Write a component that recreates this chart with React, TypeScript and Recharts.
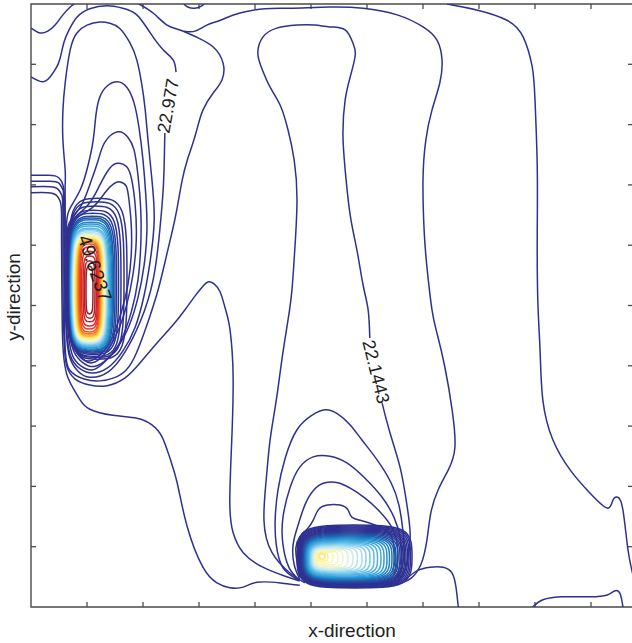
import React from "react";
import { LineChart, Line, XAxis, YAxis, ReferenceLine, ReferenceDot, ReferenceArea } from "recharts";

type P = [number, number];

const X_MAX = 10.75;
const Y_MAX = 10;
const TICKS_X = [1, 2, 3, 4, 5, 6, 7, 8, 9, 10];
const TICKS_Y = [1, 2, 3, 4, 5, 6, 7, 8, 9];

// contour labels printed on the plot
const LABEL_TEXT = ["22.977", "22.1443", "49.6237"];
const LABEL_X = [2.45, 6.16, 1.14];
const LABEL_Y = [8.31, 3.9, 5.62];
const LABEL_ANGLE = [-80, 76, 71];
const LABEL_SIZE = [18, 18, 19];

// navy contour lines (x, y)
const C_CORNER: P[] = [[0, 9.6], [0.16, 9.52], [0.3, 9.55], [0.43, 9.65], [0.57, 9.82], [0.7, 9.95], [0.77, 10]];
const C_B_TOP: P[] = [[0, 8.79], [0.2, 8.71], [0.34, 8.79], [0.45, 8.94], [0.52, 9.1], [0.59, 9.37], [0.68, 9.57], [0.82, 9.78], [1.05, 9.92], [1.36, 9.97], [1.64, 9.93], [1.89, 9.82], [2.13, 9.52], [2.36, 9.24], [2.54, 9.07], [2.59, 8.87]];
const C_B_LOW: P[] = [[2.39, 7.86], [2.38, 7.41], [2.36, 6.92], [2.3, 6.25], [2.18, 5.42], [1.95, 4.73], [1.68, 4.23], [1.38, 3.9], [1.05, 3.81], [0.84, 3.91], [0.68, 4.18], [0.62, 4.76], [0.6, 5.59], [0.6, 6.42], [0.595, 6.83], [0.55, 7.05], [0.43, 7.15], [0.25, 7.16], [0, 7.16]];
const C_U: P[] = [[0, 7.06], [0.34, 7.06], [0.5, 7.03], [0.57, 6.92], [0.585, 6.67], [0.59, 5.59], [0.595, 4.76], [0.615, 4.23], [0.69, 3.93], [0.95, 3.78], [1.23, 3.75], [1.48, 3.8], [1.7, 3.93], [1.89, 4.23], [2.09, 4.73], [2.27, 5.26], [2.41, 5.79], [2.52, 6.22], [2.61, 6.62], [2.7, 7.08], [2.79, 7.41], [2.88, 7.66], [2.96, 7.91], [3.07, 8.24], [3.25, 8.52], [3.41, 8.74], [3.43, 9.02], [3.25, 9.29], [2.96, 9.45], [2.66, 9.57], [2.43, 9.65], [2.18, 9.85], [1.93, 10]];
const C_H: P[] = [[0, 6.97], [0.34, 6.97], [0.48, 6.93], [0.55, 6.83], [0.57, 6.58], [0.57, 5.75], [0.575, 4.93], [0.595, 4.34], [0.64, 3.99], [0.79, 3.78], [1.05, 3.68], [1.36, 3.67], [1.68, 3.8], [1.95, 4.05], [2.25, 4.38], [2.52, 4.66], [2.75, 4.93], [2.93, 5.16], [3.07, 5.32], [3.16, 5.39], [3.27, 5.36], [3.38, 5.22], [3.46, 4.98], [3.54, 4.68], [3.59, 4.26], [3.61, 3.77], [3.59, 2.89], [3.55, 1.77], [3.61, 1.23], [3.79, 0.9], [4.14, 0.66], [4.54, 0.51], [4.8, 0.43]];
const C_W: P[] = [[0, 6.87], [0.3, 6.87], [0.45, 6.83], [0.52, 6.73], [0.545, 6.55], [0.545, 6.09], [0.55, 5.42], [0.56, 4.59], [0.59, 4.1], [0.66, 3.8], [0.77, 3.6], [0.88, 3.43], [1.05, 3.28], [1.46, 3.18], [1.89, 3.13], [2.16, 3.02], [2.34, 2.82], [2.48, 2.47], [2.61, 2.06], [2.79, 1.33], [3.07, 0.66], [3.32, 0.4], [3.55, 0.32], [3.79, 0.33], [4.04, 0.41], [4.45, 0.4], [4.8, 0.36]];
const C_C: P[] = [[0.61, 6.75], [0.61, 7], [0.61, 7.25], [0.57, 7.74], [0.57, 8.24], [0.61, 8.69], [0.7, 9.24], [0.82, 9.52], [1, 9.65], [1.23, 9.7], [1.41, 9.68], [1.59, 9.59], [1.77, 9.35], [1.89, 9.07], [1.98, 8.66], [2.04, 8.24], [2.09, 7.74], [2.16, 7.08], [2.2, 6.42], [2.13, 5.75], [2.02, 5.17], [1.86, 4.64], [1.63, 4.23], [1.36, 3.96], [1.09, 3.88], [0.88, 3.95], [0.7, 4.18], [0.63, 4.76], [0.61, 5.59], [0.61, 6.25], [0.61, 6.75]];
const C_D: P[] = [[0.625, 5.59], [0.63, 6.25], [0.68, 6.58], [0.88, 6.92], [1.02, 7.33], [1.11, 7.74], [1.16, 8.16], [1.23, 8.46], [1.36, 8.64], [1.54, 8.71], [1.71, 8.62], [1.84, 8.36], [1.93, 7.94], [2, 7.41], [2.05, 6.83], [2.07, 6.25], [2.02, 5.67], [1.91, 5.13], [1.75, 4.66], [1.54, 4.3], [1.3, 4.05], [1.09, 3.93], [0.89, 4], [0.73, 4.2], [0.65, 4.68], [0.625, 5.17], [0.625, 5.59]];
const C_A5: P[] = [[0.635, 5.92], [0.67, 6.34], [0.88, 6.63], [1.05, 7], [1.2, 7.41], [1.32, 7.71], [1.55, 7.88], [1.73, 7.79], [1.84, 7.58], [1.91, 7.16], [1.96, 6.58], [1.96, 6], [1.91, 5.42], [1.79, 4.89], [1.61, 4.43], [1.38, 4.13], [1.13, 3.99], [0.93, 4.05], [0.76, 4.25], [0.66, 4.68], [0.635, 5.26], [0.635, 5.92]];
const C_A6: P[] = [[0.646, 6.09], [0.72, 6.38], [1.02, 6.67], [1.23, 7], [1.41, 7.28], [1.55, 7.36], [1.71, 7.3], [1.8, 7.08], [1.86, 6.67], [1.88, 6.09], [1.82, 5.51], [1.7, 4.98], [1.52, 4.51], [1.3, 4.18], [1.09, 4.05], [0.93, 4.1], [0.78, 4.28], [0.67, 4.68], [0.646, 5.26], [0.646, 6.09]];
const C_A7: P[] = [[0.657, 6.17], [0.76, 6.42], [1.09, 6.62], [1.32, 6.87], [1.48, 7.02], [1.59, 7.05], [1.7, 6.98], [1.75, 6.75], [1.79, 6.34], [1.79, 5.84], [1.73, 5.34], [1.61, 4.88], [1.43, 4.43], [1.23, 4.18], [1.05, 4.08], [0.91, 4.13], [0.8, 4.33], [0.69, 4.73], [0.657, 5.26], [0.657, 6.17]];
const C_T: P[] = [[2.73, 9.55], [2.93, 9.55], [3.14, 9.65], [3.38, 9.73], [3.73, 9.85], [4.18, 9.92], [4.63, 9.93], [5.34, 9.95], [5.93, 9.93], [6.54, 9.82], [7, 9.62], [7.25, 9.4], [7.34, 9.07], [7.3, 8.69], [7.16, 8.24], [7.05, 7.74], [7, 7.08], [7.02, 6.25], [7.07, 5.64], [7.16, 4.93], [7.25, 4.54], [7.39, 3.98], [7.52, 3.27], [7.57, 2.65], [7.45, 2.27], [7.27, 1.94], [7.14, 1.56], [7.07, 1.11], [6.96, 0.7], [6.79, 0.48], [6.63, 0.4]];
const C_TOPLOOP: P[] = [[2.73, 10], [2.8, 9.95], [2.93, 9.93], [3.05, 9.97], [3.09, 10]];
const C_MID: P[] = [[4.89, 0.4], [4.63, 0.56], [4.3, 0.91], [4.16, 1.44], [4.2, 2.11], [4.27, 2.77], [4.38, 3.43], [4.48, 4.1], [4.59, 4.76], [4.66, 5.26], [4.71, 5.92], [4.75, 6.75], [4.7, 7.41], [4.59, 7.91], [4.45, 8.32], [4.27, 8.62], [4.11, 8.96], [4.05, 9.2], [4.14, 9.45], [4.39, 9.6], [4.75, 9.65], [5.07, 9.65], [5.34, 9.62], [5.61, 9.57], [5.75, 9.35], [5.79, 9.15], [5.7, 8.79], [5.61, 8.41], [5.57, 7.86], [5.61, 7.25], [5.7, 6.5], [5.82, 5.92], [5.93, 5.34], [6.02, 4.93], [6.05, 4.46]];
const C_MID_LOW: P[] = [[6.27, 3.38], [6.41, 2.89], [6.59, 2.32], [6.7, 1.77], [6.77, 1.23], [6.73, 0.81], [6.64, 0.53], [6.52, 0.4]];
const C_R1: P[] = [[7.43, 10], [7.96, 9.9], [8.5, 9.73], [8.79, 9.45], [8.95, 8.96], [9, 8.41], [9.04, 7.3], [9.04, 6.2], [9.05, 5.09], [9.09, 4.26], [9.14, 3.43], [9.32, 2.77], [9.63, 2.27], [9.98, 1.89], [10.29, 1.64], [10.39, 1.77], [10.48, 1.82], [10.57, 1.61], [10.66, 0.95], [10.75, 0.53]];
const C_R2: P[] = [[8.96, 0], [9.14, 0.12], [9.5, 0.17], [9.98, 0.17], [10.29, 0.2], [10.43, 0.27], [10.52, 0.22], [10.57, 0]];
const C_BR: P[] = [[6.68, 0.45], [6.89, 0.6], [7.13, 0.66], [7.36, 0.66], [7.52, 0.56], [7.59, 0.32], [7.63, 0]];
const C_E: P[] = [[4.77, 0.45], [4.5, 0.65], [4.38, 1.03], [4.36, 1.44], [4.41, 1.94], [4.54, 2.47], [4.75, 2.94], [5.02, 3.18], [5.25, 3.27], [5.48, 3.2], [5.7, 3.02], [5.91, 2.77], [6.18, 2.44], [6.43, 2.06], [6.57, 1.69], [6.64, 1.28], [6.66, 0.9], [6.61, 0.61], [6.54, 0.48]];
const C_F: P[] = [[4.79, 0.45], [4.61, 0.65], [4.5, 1.03], [4.5, 1.49], [4.63, 1.99], [4.8, 2.32], [5.04, 2.49], [5.34, 2.5], [5.64, 2.39], [5.96, 2.14], [6.27, 1.82], [6.48, 1.49], [6.59, 1.16], [6.61, 0.83], [6.55, 0.56], [6.5, 0.46]];
const C_G: P[] = [[4.8, 0.46], [4.7, 0.7], [4.68, 1.03], [4.77, 1.36], [4.89, 1.69], [5.05, 1.94], [5.25, 2.06], [5.48, 2.06], [5.7, 1.97], [5.96, 1.81], [6.23, 1.58], [6.45, 1.31], [6.54, 1.03], [6.54, 0.75], [6.48, 0.53]];
const C_DB: P[] = [[4.8, 0.5], [4.75, 0.75], [4.73, 0.98], [4.8, 1.16], [4.93, 1.29], [5.04, 1.44], [5.13, 1.61], [5.29, 1.69], [5.52, 1.69], [5.66, 1.61], [5.73, 1.49], [5.91, 1.43], [6.14, 1.36], [6.38, 1.24], [6.48, 1.03], [6.5, 0.78], [6.45, 0.58]];

const NAVY_LINES = [C_CORNER, C_B_TOP, C_B_LOW, C_U, C_H, C_W, C_C, C_D, C_A5, C_A6, C_A7, C_T, C_TOPLOOP, C_MID, C_MID_LOW, C_R1, C_R2, C_BR, C_E, C_F, C_G, C_DB];

// dense rings round the left peak: level and extent of each ring
const LEFT_LEVEL = [25.47, 26.3, 27.14, 27.97, 28.8, 29.64, 30.47, 31.3, 32.14, 32.97, 33.8, 34.64, 35.47, 36.3, 37.14, 37.97, 38.8, 39.64, 40.47, 41.3, 42.14, 42.97, 43.8, 44.64, 45.47, 46.3, 47.14, 47.97, 48.8, 49.62];
const LEFT_X0 = [0.661, 0.666, 0.671, 0.677, 0.682, 0.688, 0.693, 0.698, 0.704, 0.709, 0.714, 0.723, 0.732, 0.741, 0.75, 0.759, 0.768, 0.777, 0.786, 0.795, 0.809, 0.821, 0.834, 0.846, 0.863, 0.88, 0.902, 0.929, 0.955, 0.982];
const LEFT_X1 = [1.714, 1.661, 1.607, 1.563, 1.527, 1.5, 1.473, 1.455, 1.438, 1.42, 1.402, 1.384, 1.366, 1.354, 1.339, 1.327, 1.314, 1.304, 1.291, 1.279, 1.268, 1.255, 1.243, 1.232, 1.218, 1.204, 1.188, 1.17, 1.143, 1.107];
const LEFT_Y0 = [4.11, 4.14, 4.16, 4.19, 4.21, 4.23, 4.25, 4.26, 4.28, 4.3, 4.31, 4.33, 4.35, 4.36, 4.38, 4.39, 4.41, 4.43, 4.44, 4.46, 4.48, 4.49, 4.51, 4.53, 4.56, 4.61, 4.66, 4.73, 4.79, 4.86];
const LEFT_Y1 = [6.78, 6.72, 6.65, 6.58, 6.53, 6.48, 6.45, 6.42, 6.38, 6.35, 6.32, 6.28, 6.26, 6.24, 6.21, 6.19, 6.17, 6.15, 6.14, 6.12, 6.1, 6.09, 6.07, 6.05, 6.02, 5.97, 5.9, 5.82, 5.74, 5.65];

// dense rings round the bottom peak
const BOT_LEVEL = [24.6, 25.18, 25.75, 26.33, 26.9, 27.48, 28.05, 28.63, 29.2, 29.78, 30.35, 30.93, 31.5, 32.08, 32.65, 33.23, 33.8, 34.38, 34.95, 35.53, 36.1, 36.68, 37.25, 37.83, 38.4, 38.98, 39.55, 40.13, 40.7, 41.28];
const BOT_X0 = [4.75, 4.763, 4.775, 4.788, 4.8, 4.813, 4.825, 4.838, 4.85, 4.863, 4.875, 4.888, 4.9, 4.913, 4.925, 4.938, 4.95, 4.963, 4.975, 4.988, 5.0, 5.014, 5.029, 5.043, 5.057, 5.071, 5.089, 5.107, 5.125, 5.152];
const BOT_X1 = [6.804, 6.777, 6.75, 6.723, 6.696, 6.67, 6.643, 6.616, 6.589, 6.554, 6.518, 6.482, 6.446, 6.402, 6.357, 6.304, 6.25, 6.188, 6.125, 6.054, 5.982, 5.911, 5.83, 5.75, 5.661, 5.571, 5.482, 5.393, 5.304, 5.25];
const BOT_Y0 = [0.315, 0.327, 0.338, 0.35, 0.361, 0.373, 0.385, 0.396, 0.408, 0.419, 0.431, 0.444, 0.457, 0.471, 0.484, 0.497, 0.514, 0.53, 0.547, 0.564, 0.58, 0.597, 0.613, 0.63, 0.646, 0.671, 0.696, 0.729, 0.762, 0.796];
const BOT_Y1 = [1.36, 1.343, 1.327, 1.31, 1.293, 1.277, 1.26, 1.244, 1.227, 1.21, 1.194, 1.177, 1.161, 1.144, 1.128, 1.111, 1.094, 1.078, 1.061, 1.045, 1.028, 1.011, 0.995, 0.978, 0.962, 0.945, 0.928, 0.912, 0.895, 0.879];

const NAVY = "#2f3190";
const FRAME = "#4a4a4a";
const FONT = "'Liberation Sans', Arial, sans-serif";

const COLOR_STOPS: [number, string][] = [
  [21.3, "#2e3192"], [28.3, "#2e3192"], [30.6, "#1e5aa8"], [32.8, "#2394d3"],
  [35.0, "#5bbbe8"], [37.0, "#b3e0f2"], [38.8, "#e9f5d5"], [40.3, "#fdf5a6"],
  [41.8, "#ffe04a"], [43.3, "#fbb034"], [44.6, "#f47a20"], [46.0, "#ee3b24"],
  [47.8, "#d4212a"], [49.7, "#9e1b20"],
];

function rgb(h: string) {
  const n = parseInt(h.slice(1), 16);
  return [(n >> 16) & 255, (n >> 8) & 255, n & 255];
}

function levelColor(v: number) {
  for (let i = 1; i < COLOR_STOPS.length; i++) {
    const [v0, c0] = COLOR_STOPS[i - 1];
    const [v1, c1] = COLOR_STOPS[i];
    if (v <= v1) {
      const t = Math.max(0, Math.min(1, (v - v0) / (v1 - v0)));
      const a = rgb(c0), b = rgb(c1);
      const m = a.map((c, k) => Math.round(c + (b[k] - c) * t));
      return `rgb(${m[0]},${m[1]},${m[2]})`;
    }
  }
  return COLOR_STOPS[COLOR_STOPS.length - 1][1];
}

const toPts = (pts: P[]) => pts.map(([x, y]) => ({ x, y }));

// ring through the mid points of its extent, closed by the basis curve
function ring(x0: number, x1: number, y0: number, y1: number) {
  const xm = (x0 + x1) / 2, ym = (y0 + y1) / 2;
  return [
    { x: x0, y: y1 }, { x: xm, y: y1 }, { x: x1, y: y1 }, { x: x1, y: ym },
    { x: x1, y: y0 }, { x: xm, y: y0 }, { x: x0, y: y0 }, { x: x0, y: ym },
  ];
}

const RINGS = [
  ...LEFT_LEVEL.map((lv, i) => ({ lv, pts: ring(LEFT_X0[i], LEFT_X1[i], LEFT_Y0[i], LEFT_Y1[i]) })),
  ...BOT_LEVEL.map((lv, i) => ({ lv, pts: ring(BOT_X0[i], BOT_X1[i], BOT_Y0[i], BOT_Y1[i]) })),
];

const TICK_DX = 0.09;
const TICK_DY = 0.083;

export default function App() {
  return (
    <div style={{ position: "absolute", left: 0, top: 0, width: 632, height: 643, overflow: "hidden", background: "#fff" }}>
      <LineChart width={640} height={643} margin={{ top: 4, right: 7, bottom: 36, left: 31 }}>
        <XAxis xAxisId="b" type="number" dataKey="x" domain={[0, X_MAX]} allowDataOverflow hide />
        <YAxis yAxisId="l" type="number" dataKey="y" domain={[0, Y_MAX]} allowDataOverflow hide />

        <ReferenceArea xAxisId="b" yAxisId="l" x1={0} x2={X_MAX} y1={0} y2={Y_MAX}
          fill="none" fillOpacity={0} stroke={FRAME} strokeWidth={1.4} strokeOpacity={1} />

        {TICKS_X.map((t) => (
          <ReferenceLine key={`tb${t}`} xAxisId="b" yAxisId="l" segment={[{ x: t, y: 0 }, { x: t, y: TICK_DY }]} stroke={FRAME} strokeWidth={1.3} />
        ))}
        {TICKS_X.map((t) => (
          <ReferenceLine key={`tt${t}`} xAxisId="b" yAxisId="l" segment={[{ x: t, y: Y_MAX }, { x: t, y: Y_MAX - TICK_DY }]} stroke={FRAME} strokeWidth={1.3} />
        ))}
        {TICKS_Y.map((t) => (
          <ReferenceLine key={`tl${t}`} xAxisId="b" yAxisId="l" segment={[{ x: 0, y: t }, { x: TICK_DX, y: t }]} stroke={FRAME} strokeWidth={1.3} />
        ))}
        {TICKS_Y.map((t) => (
          <ReferenceLine key={`tr${t}`} xAxisId="b" yAxisId="l" segment={[{ x: X_MAX, y: t }, { x: X_MAX - TICK_DX, y: t }]} stroke={FRAME} strokeWidth={1.3} />
        ))}

        {NAVY_LINES.map((pts, i) => (
          <Line key={`n${i}`} xAxisId="b" yAxisId="l" data={toPts(pts)} dataKey="y" type="natural"
            stroke={NAVY} strokeWidth={1.5} dot={false} activeDot={false} isAnimationActive={false} />
        ))}
        {RINGS.map((r, i) => (
          <Line key={`r${i}`} xAxisId="b" yAxisId="l" data={r.pts} dataKey="y" type="basisClosed"
            stroke={levelColor(r.lv)} strokeWidth={1.5} dot={false} activeDot={false} isAnimationActive={false} />
        ))}

        {LABEL_TEXT.map((txt, i) => (
          <ReferenceDot key={txt} xAxisId="b" yAxisId="l" x={LABEL_X[i]} y={LABEL_Y[i]} r={0}
            shape={(p: any) => (
              <text x={p.cx} y={p.cy} transform={`rotate(${LABEL_ANGLE[i]} ${p.cx} ${p.cy})`}
                textAnchor="middle" dominantBaseline="central" fontSize={LABEL_SIZE[i]} fontFamily={FONT}
                fill="#1c1c1c">{txt}</text>
            )} />
        ))}
      </LineChart>
      <svg width={632} height={643} style={{ position: "absolute", left: 0, top: 0, pointerEvents: "none" }}>
        <text x={352} y={630} textAnchor="middle" dominantBaseline="central" fontSize={19} fontFamily={FONT} fill="#222">x-direction</text>
        <text transform="translate(13 297) rotate(-90)" textAnchor="middle" dominantBaseline="central" fontSize={19} fontFamily={FONT} fill="#222">y-direction</text>
      </svg>
    </div>
  );
}
